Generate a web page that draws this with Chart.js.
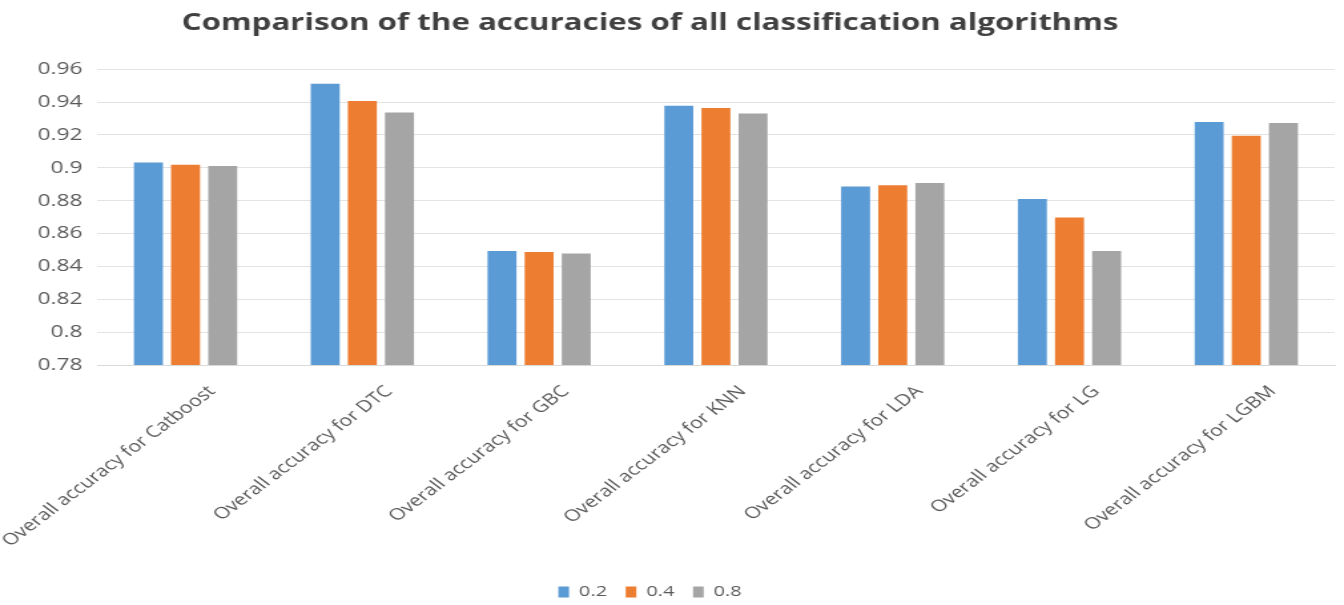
<!DOCTYPE html>
<html>
<head>
<meta charset="utf-8">
<script src="https://cdn.jsdelivr.net/npm/chart.js@4"></script>
<style>
  html, body { margin: 0; padding: 0; background: #ffffff; overflow: hidden; }
  /* chart is laid out narrower, then widened to the page width */
  #wrap { width: 1010px; height: 605px; transform: scaleX(1.33069); transform-origin: 0 0; }
  #c { display: block; }
</style>
</head>
<body>
<div id="wrap"><canvas id="c" width="1010" height="605"></canvas></div>
<script>
// Algorithms compared
const categories = [
  'Overall accuracy for Catboost',
  'Overall accuracy for DTC',
  'Overall accuracy for GBC',
  'Overall accuracy for KNN',
  'Overall accuracy for LDA',
  'Overall accuracy for LG',
  'Overall accuracy for LGBM'
];

// Series names (test split ratio)
const seriesNames = ['0.2', '0.4', '0.8'];

// Accuracy per algorithm for each split
const acc02 = [0.9033, 0.9511, 0.8493, 0.9378, 0.8886, 0.8810, 0.9279];
const acc04 = [0.9019, 0.9406, 0.8487, 0.9364, 0.8894, 0.8697, 0.9195];
const acc08 = [0.9011, 0.9336, 0.8479, 0.9330, 0.8908, 0.8493, 0.9273];

// Value axis range
const yMin = 0.78;
const yMax = 0.96;
const yStep = 0.02;

const seriesColors = ['#5B9BD5', '#ED7D31', '#A5A5A5'];
const seriesData = [acc02, acc04, acc08];

const FONT = "'Open Sans', 'Liberation Sans', sans-serif";
const TEXT = '#595959';

new Chart(document.getElementById('c'), {
  type: 'bar',
  data: {
    labels: categories,
    datasets: seriesNames.map((name, i) => ({
      label: name,
      data: seriesData[i],
      backgroundColor: seriesColors[i],
      borderWidth: 0,
      categoryPercentage: 0.63,
      barPercentage: 0.78
    }))
  },
  options: {
    responsive: false,
    animation: false,
    devicePixelRatio: 1,
    layout: { padding: { left: -26, right: 7, top: 9, bottom: -4.5 } },
    plugins: {
      title: {
        display: true,
        text: 'Comparison of the accuracies of all classification algorithms',
        color: '#404040',
        font: { family: FONT, size: 23.5, weight: 'bold' },
        padding: { top: 0, bottom: 32 }
      },
      legend: {
        position: 'bottom',
        labels: {
          color: TEXT,
          font: { family: FONT, size: 15 },
          boxWidth: 8,
          boxHeight: 11,
          padding: 14
        }
      },
      tooltip: { enabled: false }
    },
    scales: {
      x: {
        grid: { display: false },
        border: { display: true, color: '#D9D9D9', width: 1 },
        ticks: {
          color: TEXT,
          font: { family: FONT, size: 16 },
          minRotation: 45,
          maxRotation: 45,
          autoSkip: false,
          labelOffset: 20,
          padding: 9
        },
        // slanted labels may hang past the plot edges without shrinking it
        afterFit: (s) => { s.height = 205.5; s.paddingLeft = 0; s.paddingRight = 0; }
      },
      y: {
        min: yMin,
        max: yMax,
        grid: { color: '#E3E3E3', drawTicks: false },
        border: { display: false },
        ticks: {
          stepSize: yStep,
          color: TEXT,
          font: { family: FONT, size: 17 },
          padding: 11,
          callback: (v) => String(parseFloat(Number(v).toFixed(2)))
        },
        afterFit: (s) => { s.width = 99; }
      }
    }
  }
});
</script>
</body>
</html>
